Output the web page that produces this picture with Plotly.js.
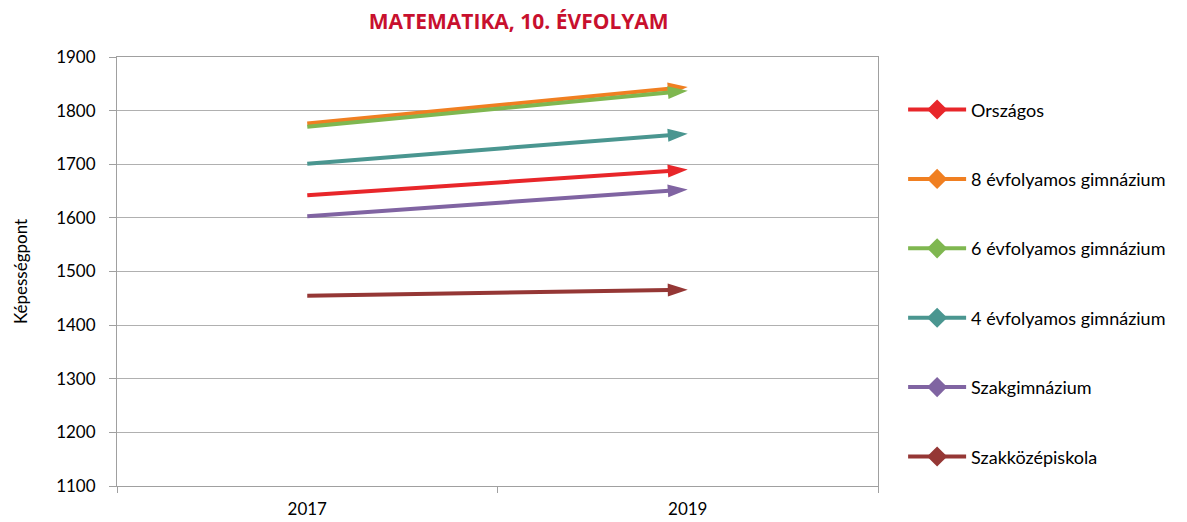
<!DOCTYPE html>
<html>
<head>
<meta charset="utf-8">
<script src="https://cdn.plot.ly/plotly-3.0.1.min.js"></script>
<style>html,body{margin:0;padding:0;background:#fff;}#chart{width:1187px;height:522px;}</style>
</head>
<body>
<div id="chart"></div>
<script>
const years = ['2017', '2019'];
const seriesNames = ['Országos', '8 évfolyamos gimnázium', '6 évfolyamos gimnázium', '4 évfolyamos gimnázium', 'Szakgimnázium', 'Szakközépiskola'];
const orszagos = [1642, 1690];
const gimn8 = [1776, 1844];
const gimn6 = [1770, 1837];
const gimn4 = [1701, 1757];
const szakgimn = [1603, 1653];
const szakkozep = [1455, 1466];
const seriesValues = [orszagos, gimn8, gimn6, gimn4, szakgimn, szakkozep];
const colors = ['#e8262a', '#f07f21', '#7fb750', '#4a9690', '#8064a2', '#953735'];

const traces = seriesNames.map((name, i) => ({
  type: 'scatter',
  mode: 'lines+markers',
  name: name,
  legendgroup: 'g' + i,
  x: years,
  y: seriesValues[i],
  line: {color: colors[i], width: 4},
  marker: {
    color: colors[i],
    opacity: 1,
    symbol: ['diamond', 'arrow'],
    size: [10, 21],
    angleref: 'previous',
    line: {width: 0, color: colors[i]}
  },
  cliponaxis: false
}));

const layout = {
  width: 1187,
  height: 522,
  margin: {l: 117, r: 309, t: 57, b: 36},
  paper_bgcolor: '#ffffff',
  plot_bgcolor: '#ffffff',
  font: {family: 'Lato, "Open Sans", sans-serif', color: '#000000', size: 17},
  title: {
    text: '<b>MATEMATIKA, 10. ÉVFOLYAM</b>',
    font: {family: '"Open Sans", Lato, sans-serif', size: 21, color: '#c8102e'},
    x: 0.437, xanchor: 'center', y: 0.958, yanchor: 'middle'
  },
  xaxis: {
    type: 'category',
    tickson: 'boundaries',
    ticks: 'outside',
    ticklen: 6,
    tickcolor: '#a0a0a0',
    showline: true,
    linecolor: '#a0a0a0',
    linewidth: 1,
    mirror: true,
    showgrid: false,
    tickfont: {size: 17},
    ticklabelstandoff: 8,
    range: [-0.5, 1.5]
  },
  yaxis: {
    range: [1100, 1900],
    dtick: 100,
    ticks: 'outside',
    ticklen: 7,
    tickcolor: '#a0a0a0',
    showline: true,
    linecolor: '#a0a0a0',
    linewidth: 1,
    mirror: true,
    showgrid: true,
    gridcolor: '#b0b0b0',
    gridwidth: 1,
    zeroline: false,
    tickfont: {size: 17},
    ticklabelstandoff: 10,
    title: {text: 'Képességpont', font: {size: 17}, standoff: 24}
  },
  legend: {
    x: 1.033, xanchor: 'left',
    y: 0.92, yanchor: 'top',
    font: {size: 18},
    itemwidth: 58,
    tracegroupgap: 43,
    bgcolor: 'rgba(0,0,0,0)'
  },
  showlegend: true
};

Plotly.newPlot('chart', traces, layout, {displayModeBar: false, staticPlot: true});
</script>
</body>
</html>
